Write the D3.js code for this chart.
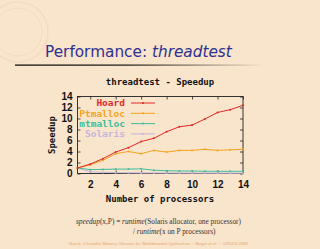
<!DOCTYPE html>
<html>
<head>
<meta charset="utf-8">
<script src="https://cdn.jsdelivr.net/npm/d3@7"></script>
<style>
  html, body { margin: 0; padding: 0; background: #f9e4cc; }
  svg { display: block; }
</style>
</head>
<body>
<svg id="svg" width="320" height="249"></svg>
<script>
// グラフのデータ
const procs = [1, 2, 3, 4, 5, 6, 7, 8, 9, 10, 11, 12, 13, 14];
const hoard = [1, 1.7, 2.7, 3.9, 4.7, 5.8, 6.4, 7.6, 8.5, 8.8, 9.9, 11.1, 11.6, 12.4];
const ptmalloc = [1, 1.6, 2.4, 3.6, 4.0, 3.6, 4.2, 3.9, 4.2, 4.2, 4.4, 4.2, 4.3, 4.4];
const mtmalloc = [1, 0.7, 0.75, 0.8, 0.8, 0.85, 0.6, 0.5, 0.45, 0.45, 0.4, 0.4, 0.4, 0.4];
const solaris = [1, 0.3, 0.2, 0.15, 0.12, 0.1, 0.1, 0.08, 0.08, 0.07, 0.07, 0.06, 0.06, 0.06];
const seriesNames = ["Hoard", "Ptmalloc", "mtmalloc", "Solaris"];
const seriesColors = ["#e02a2a", "#f2a51c", "#3fbf9c", "#c6b6dc"];
const xTicks = [2, 4, 6, 8, 10, 12, 14];
const yTicks = [0, 2, 4, 6, 8, 10, 12, 14];

const svg = d3.select("#svg");
const mono = "'DejaVu Sans Mono', monospace";

// 背景の透かし（紋章っぽい円）
const seal = svg.append("g").attr("opacity", 0.1).attr("fill", "none").attr("stroke", "#a88a60");
seal.append("circle").attr("cx", 18).attr("cy", 32).attr("r", 30).attr("stroke-width", 1.2);
seal.append("circle").attr("cx", 18).attr("cy", 32).attr("r", 24).attr("stroke-width", 0.8);

// スライドのタイトル
const title = svg.append("text")
  .attr("x", 45).attr("y", 57)
  .attr("font-family", "'DejaVu Sans', Verdana, sans-serif")
  .attr("font-size", 15.3)
  .attr("fill", "#2e3192");
title.append("tspan").text("Performance: ");
title.append("tspan").attr("font-style", "italic").text("threadtest");

// タイトル下の線（グラデーション）
const grad = svg.append("defs").append("linearGradient").attr("id", "rule");
grad.append("stop").attr("offset", "0%").attr("stop-color", "#000").attr("stop-opacity", 1);
grad.append("stop").attr("offset", "45%").attr("stop-color", "#000").attr("stop-opacity", 0.9);
grad.append("stop").attr("offset", "100%").attr("stop-color", "#000").attr("stop-opacity", 0);
svg.append("rect").attr("x", 15).attr("y", 64.5).attr("width", 250).attr("height", 1.2).attr("fill", "url(#rule)");

// スケール
const x = d3.scaleLinear().domain([1, 14]).range([77.5, 243]);
const y = d3.scaleLinear().domain([0, 14]).range([173.5, 96.5]);

// グラフタイトル
svg.append("text")
  .attr("x", 160).attr("y", 85)
  .attr("text-anchor", "middle")
  .attr("font-family", mono).attr("font-weight", "bold").attr("font-size", 9)
  .attr("fill", "#111")
  .text("threadtest - Speedup");

// 軸（内向きの目盛り、上と右にも）
const axisG = svg.append("g").attr("font-family", mono).attr("font-weight", "bold").attr("font-size", 9.5);
axisG.append("g").attr("transform", `translate(0,${y(0)})`)
  .call(d3.axisBottom(x).tickValues(xTicks).tickSizeInner(-3).tickSizeOuter(0).tickPadding(7));
axisG.append("g").attr("transform", `translate(${x(1)},0)`)
  .call(d3.axisLeft(y).tickValues(yTicks).tickSizeInner(-3).tickSizeOuter(0).tickPadding(5));
axisG.append("g").attr("transform", `translate(0,${y(14)})`)
  .call(d3.axisTop(x).tickValues(xTicks).tickSizeInner(-3).tickSizeOuter(0).tickFormat(""));
axisG.append("g").attr("transform", `translate(${x(14)},0)`)
  .call(d3.axisRight(y).tickValues(yTicks).tickSizeInner(-3).tickSizeOuter(0).tickFormat(""));
axisG.selectAll("path.domain").remove();
axisG.selectAll("line").attr("stroke", "#222").attr("stroke-width", 0.8);
axisG.selectAll("text").attr("fill", "#111");

// 枠線
svg.append("rect")
  .attr("x", x(1)).attr("y", y(14))
  .attr("width", x(14) - x(1)).attr("height", y(0) - y(14))
  .attr("fill", "none").attr("stroke", "#222").attr("stroke-width", 0.9);

// 軸ラベル
svg.append("text")
  .attr("x", 160).attr("y", 201.5)
  .attr("text-anchor", "middle")
  .attr("font-family", mono).attr("font-weight", "bold").attr("font-size", 9)
  .attr("fill", "#111")
  .text("Number of processors");
svg.append("text")
  .attr("transform", "translate(55,135) rotate(-90)")
  .attr("text-anchor", "middle")
  .attr("font-family", mono).attr("font-weight", "bold").attr("font-size", 9)
  .attr("fill", "#111")
  .text("Speedup");

// 系列の線
const allSeries = [hoard, ptmalloc, mtmalloc, solaris];
const line = d3.line().x((d, i) => x(procs[i])).y(d => y(d));
const plot = svg.append("g");
// 奥から描く（Solaris が一番下）
for (let s = allSeries.length - 1; s >= 0; s--) {
  const vals = allSeries[s];
  plot.append("path")
    .attr("d", line(vals))
    .attr("fill", "none")
    .attr("stroke", seriesColors[s])
    .attr("stroke-width", 1);
  plot.selectAll(null).data(vals).enter().append("circle")
    .attr("cx", (d, i) => x(procs[i]))
    .attr("cy", d => y(d))
    .attr("r", 1)
    .attr("fill", seriesColors[s]);
}

// 凡例
const legend = svg.append("g");
seriesNames.forEach((name, i) => {
  const ly = 103 + i * 10.3;
  legend.append("text")
    .attr("x", 125).attr("y", ly + 3.3)
    .attr("text-anchor", "end")
    .attr("font-family", mono).attr("font-weight", "bold").attr("font-size", 9.5)
    .attr("fill", seriesColors[i])
    .text(name);
  legend.append("line")
    .attr("x1", 131).attr("x2", 155).attr("y1", ly).attr("y2", ly)
    .attr("stroke", seriesColors[i]).attr("stroke-width", 1);
  legend.append("circle")
    .attr("cx", 143).attr("cy", ly).attr("r", 1)
    .attr("fill", seriesColors[i]);
});

// 式の説明
const serif = "'Liberation Serif', 'Times New Roman', serif";
const f1 = svg.append("text")
  .attr("x", 76).attr("y", 224)
  .attr("font-family", serif).attr("font-size", 7.3).attr("fill", "#333");
f1.append("tspan").attr("font-style", "italic").text("speedup");
f1.append("tspan").text("(x,P) = ");
f1.append("tspan").attr("font-style", "italic").text("runtime");
f1.append("tspan").text("(Solaris allocator, one processor)");
const f2 = svg.append("text")
  .attr("x", 133).attr("y", 234)
  .attr("font-family", serif).attr("font-size", 7.3).attr("fill", "#333");
f2.append("tspan").text("/ ");
f2.append("tspan").attr("font-style", "italic").text("runtime");
f2.append("tspan").text("(x on P processors)");

// フッター
svg.append("text")
  .attr("x", 158).attr("y", 245)
  .attr("text-anchor", "middle")
  .attr("font-family", serif).attr("font-style", "italic").attr("font-size", 4.4)
  .attr("fill", "#e0a468")
  .text("Hoard: A Scalable Memory Allocator for Multithreaded Applications -- Berger et al. -- ASPLOS 2000");
</script>
</body>
</html>
